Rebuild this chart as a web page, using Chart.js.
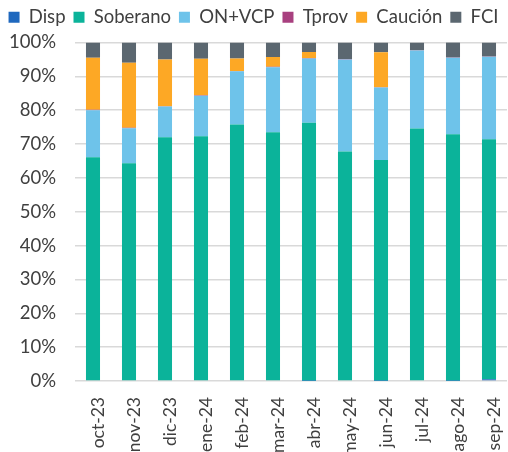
<!DOCTYPE html>
<html><head><meta charset="utf-8">
<script src="https://cdn.jsdelivr.net/npm/chart.js@4"></script>
<style>html,body{margin:0;padding:0;background:#fff}#w{width:508px;height:452px}</style>
</head><body><div id="w"><canvas id="c"></canvas></div>
<script>
const categories = ["oct-23","nov-23","dic-23","ene-24","feb-24","mar-24","abr-24","may-24","jun-24","jul-24","ago-24","sep-24"];
const disp     = [0, 0, 0, 0, 0, 0.2, 0.1, 0.2, 0.1, 0, 0.1, 0.5];
const soberano = [66.1, 64.3, 72.0, 72.3, 75.8, 73.3, 76.2, 67.6, 65.2, 74.6, 72.8, 70.9];
const onvcp    = [13.9, 10.4, 9.1, 12.0, 15.7, 19.2, 19.0, 27.2, 21.4, 23.0, 22.6, 24.4];
const tprov    = [0.1, 0.1, 0.1, 0.1, 0.1, 0.1, 0.1, 0.1, 0.1, 0.1, 0.1, 0.1];
const caucion  = [15.4, 19.2, 13.8, 10.8, 3.7, 2.9, 1.8, 0, 10.3, 0, 0, 0];
const fci      = [4.5, 6.0, 5.0, 4.8, 4.7, 4.3, 2.8, 4.9, 2.9, 2.3, 4.5, 4.1];
const yTicks   = [0,10,20,30,40,50,60,70,80,90,100];

const legendPad = {
  id: 'legendPad',
  beforeInit(chart) {
    const orig = chart.legend.fit;
    chart.legend.fit = function () { orig.call(this); this.height += 6; };
  }
};

const mk = (label, data, color) => ({label, data, backgroundColor: color, borderWidth: 0, barPercentage: 0.39, categoryPercentage: 1});
new Chart(document.getElementById('c'), {
  type: 'bar',
  data: {
    labels: categories,
    datasets: [
      mk('Disp', disp, '#1f68be'),
      mk('Soberano', soberano, '#0bb39a'),
      mk('ON+VCP', onvcp, '#6ec3ea'),
      mk('Tprov', tprov, '#a8407f'),
      mk('Caución', caucion, '#fda825'),
      mk('FCI', fci, '#5b6770')
    ]
  },
  plugins: [legendPad],
  options: {
    responsive: true, maintainAspectRatio: false, animation: false,
    layout: {padding: {left: 0, right: 1, top: 0, bottom: 0}},
    plugins: {
      tooltip: {enabled: false},
      legend: {
        position: 'top',
        labels: {boxWidth: 11, boxHeight: 11, padding: 8, color: '#404040', font: {family: 'Lato', size: 18.5}}
      }
    },
    scales: {
      x: {
        stacked: true,
        grid: {display: false},
        border: {display: false},
        afterFit: ax => { ax.height = 71; ax.paddingLeft = 0; ax.paddingRight = 0; },
        ticks: {minRotation: 90, maxRotation: 90, labelOffset: 5, color: '#404040', font: {family: 'Lato', size: 17.5}, padding: 8}
      },
      y: {
        stacked: true, min: 0, max: 100,
        afterBuildTicks: ax => { ax.ticks = yTicks.map(v => ({value: v})); },
        afterFit: ax => { ax.width = 75; },
        grid: {color: '#d9d9d9', lineWidth: 1.5, drawTicks: false},
        border: {display: false},
        ticks: {callback: v => v + '%', color: '#404040', font: {family: 'Lato', size: 18.5}, padding: 19}
      }
    }
  }
});
</script></body></html>
